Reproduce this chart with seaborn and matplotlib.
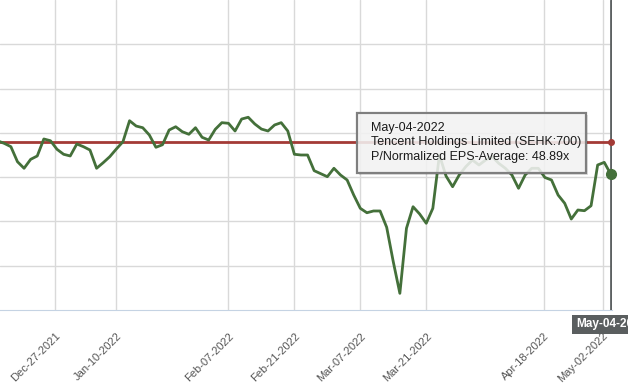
import numpy as np
import pandas as pd
import matplotlib
matplotlib.use('Agg')
import matplotlib.pyplot as plt
import seaborn as sns
from matplotlib.patches import Rectangle

# HK trading calendar (ordinal axis, like the original chart)
hk_holidays = ['2021-12-27', '2022-02-01', '2022-02-02', '2022-02-03',
               '2022-04-05', '2022-04-15', '2022-04-18', '2022-05-02']
trade_days = pd.bdate_range('2021-12-14', '2022-05-04', freq='C', holidays=hk_holidays)

pe_values = [52.67, 52.38, 52.01, 50.31, 49.57, 50.58, 50.96, 52.88, 52.68, 51.71,
             51.15, 50.96, 52.31, 52.01, 51.63, 49.57, 50.20, 50.88, 51.75, 52.57,
             54.94, 54.34, 54.15, 53.33, 51.94, 52.23, 53.89, 54.26, 53.70, 53.41,
             54.15, 53.07, 52.76, 53.97, 54.72, 54.65, 53.78, 55.13, 55.33, 54.57,
             54.00, 53.78, 54.46, 54.72, 53.78, 51.15, 51.07, 51.07, 49.30, 48.96,
             48.62, 49.57, 48.81, 48.25, 46.55, 45.05, 44.55, 44.75, 44.75, 42.91,
             39.02, 35.45, 42.79, 45.23, 44.41, 43.36, 45.05, 51.07, 48.70, 47.49,
             48.81, 49.75, 50.50, 49.94, 50.50, 50.88, 50.13, 49.57, 48.81, 47.31,
             48.81, 49.57, 49.57, 48.53, 48.25, 46.55, 45.62, 43.84, 44.86, 44.78,
             45.34, 49.94, 50.24, 48.89]
avg_value = 52.54

tick_dates = ['2021-12-27', '2022-01-10', '2022-02-07', '2022-02-21',
              '2022-03-07', '2022-03-21', '2022-04-18', '2022-05-02']

company = 'Tencent Holdings Limited (SEHK:700)'
metric = 'P/Normalized EPS-Average'

sns.set_style('white')
plt.rcParams['font.family'] = ['Liberation Sans', 'DejaVu Sans']

n = len(trade_days)
df = pd.DataFrame({'pos': np.arange(n), 'value': pe_values[:n]})

tick_pos = np.interp(pd.to_datetime(tick_dates).values.astype('int64'),
                     trade_days.values.astype('int64'), np.arange(n))
tick_lbl = [pd.Timestamp(d).strftime('%b-%d-%Y') for d in tick_dates]

fig = plt.figure(figsize=(6.28, 3.91), dpi=100)
ax = fig.add_axes([0, 81 / 391, 611.5 / 628, 310 / 391])

ax.axhline(avg_value, color='#a33a36', lw=2, zorder=2)
sns.lineplot(data=df, x='pos', y='value', color='#44703a', linewidth=2, ax=ax, zorder=3)

last = n - 1
ax.axvline(last, color='#5d6162', lw=2, zorder=4)
ax.plot([last], [avg_value], 'o', color='#a33a36', ms=4, zorder=5, clip_on=False)
ax.plot([last], [df.value.iloc[-1]], 'o', color='#44703a', ms=7, zorder=5, clip_on=False)

ax.set_xlim(0.35, last + 0.1)
ax.set_ylim(33.57, 68.57)
ax.set_yticks(np.arange(38.57, 64.0, 5))
ax.set_xticks(tick_pos)
ax.set_xticklabels(tick_lbl, rotation=45, ha='right', rotation_mode='anchor')
ax.tick_params(axis='x', length=0, pad=15, labelsize=8, labelcolor='#555555')
ax.tick_params(axis='y', length=0, labelleft=False)
ax.grid(True, color='#d9d9d9', lw=1)
ax.set_axisbelow(True)
ax.set_xlabel('')
ax.set_ylabel('')
for s in ['left', 'top', 'right']:
    ax.spines[s].set_visible(False)
ax.spines['bottom'].set_color('#c5d3e3')

# crosshair date label
last_date = trade_days[-1].strftime('%b-%d-%Y')
ax.annotate(last_date, xy=(last, 0), xycoords=('data', 'axes fraction'),
            xytext=(0, -6), textcoords='offset points', ha='center', va='top',
            color='white', fontsize=8.5, fontweight='bold', annotation_clip=False,
            bbox=dict(boxstyle='square,pad=0.3', fc='#5a5e5f', ec='none'))

# tooltip
W, H = 628, 391
bx0, bx1, by0, by1 = 357, 586, 113, 172.7
fig.add_artist(Rectangle(((bx0 + 2) / W, (H - by1 - 2) / H), (bx1 - bx0) / W, (by1 - by0) / H,
                         transform=fig.transFigure, fc='black', alpha=0.12, ec='none', zorder=6))
fig.add_artist(Rectangle((bx0 / W, (H - by1) / H), (bx1 - bx0) / W, (by1 - by0) / H,
                         transform=fig.transFigure, fc=(0.97, 0.97, 0.97, 0.86),
                         ec='#7f7f7f', lw=1.6, zorder=7))
lines = [last_date, company, '%s: %.2fx' % (metric, df.value.iloc[-1])]
for i, t in enumerate(lines):
    fig.text(371 / W, (H - 128 - 14.5 * i) / H, t, ha='left', va='center',
             fontsize=9, color='#1a1a1a', zorder=8)

plt.savefig('out.png', dpi=100)
